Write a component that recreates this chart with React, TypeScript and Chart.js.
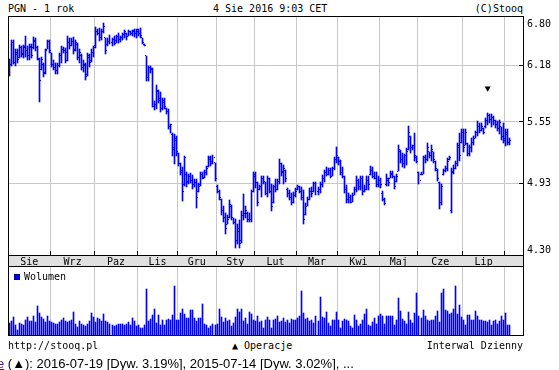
import React, { useEffect, useRef } from "react";
import { Chart, registerables } from "chart.js";

Chart.register(...registerables);

// ---------- data ----------
const monthLabels = ["Sie", "Wrz", "Paz", "Lis", "Gru", "Sty", "Lut", "Mar", "Kwi", "Maj", "Cze", "Lip", "Sie"];
const monthDays = [21, 22, 21, 20, 19, 19, 21, 20, 21, 19, 22, 21, 3];
const slotCount = 255;
const priceTicks = [4.3, 4.93, 5.55, 6.18, 6.8];
const priceMin = 4.3;
const priceMax = 6.8;

const open = [
  6.12, 6.20, 6.46, 6.22, 6.32, 6.28, 6.40, 6.33, 6.40, 6.36,
  6.30, 6.40, 6.40, 6.48, 6.40, 6.26, 6.14, 6.20, 6.10, 6.38,
  6.48, 6.34, 6.20, 6.16, 6.12, 6.18, 6.30, 6.38, 6.36, 6.34,
  6.46, 6.42, 6.48, 6.38, 6.44, 6.28, 6.30, 6.16, 6.18, 6.08,
  6.28, 6.24, 6.34, 6.42, 6.60, 6.58, 6.52, 6.60, 6.52, 6.44,
  6.48, 6.46, 6.50, 6.49, 6.54, 6.50, 6.52, 6.56, 6.57, 6.54,
  6.60, 6.58, 6.60, 6.58, 6.60, 6.58, 6.52, 6.44, 6.30, 6.04,
  6.16, 6.15, 5.72, 5.74, 5.88, 5.80, 5.70, 5.76, 5.70, 5.66,
  5.50, 5.42, 5.28, 5.36, 5.22, 5.12, 5.06, 4.92, 5.02, 4.95,
  5.00, 4.96, 4.92, 4.94, 4.86, 4.92, 5.02, 4.99, 5.04, 5.10,
  5.16, 5.14, 5.13, 4.90, 4.86, 4.78, 4.68, 4.62, 4.56, 4.62,
  4.72, 4.62, 4.58, 4.42, 4.50, 4.42, 4.64, 4.66, 4.66, 4.60,
  4.60, 4.86, 5.00, 4.94, 4.88, 4.90, 4.98, 4.95, 4.84, 4.98,
  4.86, 4.76, 4.90, 4.88, 4.95, 5.12, 5.04, 5.06, 4.88, 4.84,
  4.80, 4.76, 4.82, 4.88, 4.90, 4.86, 4.80, 4.65, 4.72, 4.78,
  4.86, 4.86, 4.93, 4.86, 4.88, 4.92, 4.98, 5.04, 5.02, 5.06,
  5.00, 5.08, 5.16, 5.18, 5.14, 5.04, 5.00, 4.88, 4.78, 4.80,
  4.76, 4.82, 4.88, 4.96, 4.90, 4.98, 4.86, 4.88, 4.96, 5.02,
  5.06, 5.00, 4.98, 4.92, 4.96, 4.84, 4.78, 4.92, 4.96, 4.98,
  5.02, 5.00, 4.95, 5.05, 5.24, 5.16, 5.12, 5.20, 5.26, 5.40,
  5.28, 5.30, 5.18, 5.04, 5.02, 5.02, 5.18, 5.16, 5.24, 5.20,
  5.24, 5.14, 5.06, 4.94, 4.76, 5.02, 5.06, 5.08, 5.16, 4.68,
  5.04, 5.08, 5.12, 5.28, 5.34, 5.44, 5.30, 5.32, 5.22, 5.28,
  5.34, 5.38, 5.44, 5.50, 5.46, 5.48, 5.50, 5.56, 5.62, 5.58,
  5.60, 5.56, 5.52, 5.48, 5.50, 5.40, 5.38, 5.42, 5.34,
];

const high = [
  6.26, 6.50, 6.50, 6.38, 6.38, 6.43, 6.42, 6.43, 6.54, 6.42,
  6.44, 6.44, 6.53, 6.52, 6.42, 6.27, 6.29, 6.21, 6.38, 6.50,
  6.50, 6.34, 6.25, 6.21, 6.21, 6.34, 6.42, 6.41, 6.40, 6.54,
  6.52, 6.52, 6.53, 6.50, 6.46, 6.38, 6.32, 6.25, 6.21, 6.34,
  6.32, 6.38, 6.42, 6.66, 6.63, 6.65, 6.63, 6.71, 6.52, 6.52,
  6.56, 6.52, 6.54, 6.56, 6.58, 6.54, 6.58, 6.62, 6.58, 6.62,
  6.61, 6.62, 6.63, 6.63, 6.63, 6.64, 6.52, 6.44, 6.30, 6.18,
  6.18, 6.16, 5.78, 5.96, 5.90, 5.88, 5.81, 5.81, 5.70, 5.69,
  5.53, 5.43, 5.42, 5.40, 5.23, 5.13, 5.09, 5.20, 5.04, 5.02,
  5.03, 5.01, 4.97, 4.97, 4.94, 5.04, 5.04, 5.06, 5.10, 5.20,
  5.20, 5.21, 5.13, 4.92, 4.87, 4.79, 4.72, 4.66, 4.64, 4.78,
  4.73, 4.62, 4.61, 4.56, 4.60, 4.68, 4.83, 4.72, 4.67, 4.66,
  4.87, 5.04, 5.04, 4.95, 4.92, 5.00, 5.00, 4.95, 5.00, 4.98,
  4.93, 4.92, 4.97, 4.97, 5.17, 5.13, 5.11, 5.06, 4.89, 4.87,
  4.84, 4.85, 4.89, 4.92, 4.91, 4.90, 4.87, 4.75, 4.81, 4.89,
  4.90, 4.95, 4.95, 4.90, 4.95, 5.01, 5.06, 5.09, 5.08, 5.08,
  5.09, 5.19, 5.29, 5.19, 5.16, 5.09, 5.00, 4.92, 4.84, 4.82,
  4.84, 4.90, 5.00, 4.97, 5.00, 5.00, 4.92, 5.00, 5.00, 5.10,
  5.09, 5.04, 5.04, 5.00, 4.98, 4.86, 4.80, 5.02, 4.98, 5.05,
  5.05, 5.00, 5.02, 5.31, 5.26, 5.23, 5.22, 5.28, 5.51, 5.40,
  5.31, 5.43, 5.20, 5.04, 5.04, 5.20, 5.21, 5.33, 5.24, 5.31,
  5.24, 5.15, 5.07, 4.95, 4.93, 5.07, 5.10, 5.18, 5.20, 5.08,
  5.11, 5.15, 5.33, 5.43, 5.47, 5.47, 5.47, 5.33, 5.31, 5.38,
  5.40, 5.45, 5.56, 5.54, 5.54, 5.49, 5.59, 5.65, 5.63, 5.63,
  5.61, 5.57, 5.56, 5.57, 5.50, 5.54, 5.47, 5.48, 5.38,
];

const low = [
  6.06, 6.18, 6.20, 6.18, 6.21, 6.27, 6.29, 6.27, 6.29, 6.25,
  6.25, 6.27, 6.38, 6.36, 6.25, 5.77, 6.13, 6.05, 6.08, 6.38,
  6.34, 6.17, 6.13, 6.09, 6.09, 6.17, 6.21, 6.34, 6.21, 6.24,
  6.38, 6.42, 6.32, 6.36, 6.25, 6.21, 6.13, 6.11, 6.01, 6.06,
  6.17, 6.22, 6.29, 6.40, 6.56, 6.48, 6.50, 6.58, 6.32, 6.42,
  6.44, 6.42, 6.43, 6.46, 6.46, 6.47, 6.50, 6.52, 6.50, 6.54,
  6.56, 6.54, 6.53, 6.52, 6.55, 6.52, 6.44, 6.42, 6.00, 6.00,
  6.10, 5.71, 5.68, 5.69, 5.75, 5.66, 5.68, 5.69, 5.64, 5.47,
  5.43, 5.20, 5.12, 5.20, 5.10, 5.01, 4.77, 4.91, 4.90, 4.93,
  4.94, 4.88, 4.90, 4.71, 4.85, 4.91, 4.97, 4.98, 5.01, 5.09,
  5.10, 5.12, 4.96, 4.84, 4.78, 4.64, 4.58, 4.48, 4.56, 4.62,
  4.60, 4.56, 4.36, 4.39, 4.36, 4.40, 4.60, 4.62, 4.58, 4.58,
  4.58, 4.85, 4.89, 4.72, 4.87, 4.81, 4.93, 4.82, 4.81, 4.84,
  4.68, 4.75, 4.85, 4.87, 4.93, 5.00, 4.93, 4.95, 4.81, 4.78,
  4.73, 4.75, 4.81, 4.87, 4.84, 4.78, 4.56, 4.64, 4.72, 4.78,
  4.81, 4.85, 4.82, 4.82, 4.84, 4.90, 4.95, 5.00, 5.01, 4.98,
  5.00, 5.06, 5.13, 5.11, 5.01, 4.98, 4.84, 4.75, 4.75, 4.75,
  4.76, 4.82, 4.85, 4.87, 4.87, 4.82, 4.85, 4.87, 4.87, 5.01,
  4.98, 4.97, 4.90, 4.90, 4.89, 4.77, 4.73, 4.91, 4.91, 4.98,
  4.98, 4.88, 4.95, 5.05, 5.13, 5.09, 5.08, 5.11, 5.26, 5.23,
  5.26, 5.15, 5.13, 4.93, 5.01, 5.02, 5.13, 5.15, 5.18, 5.15,
  5.13, 5.05, 4.96, 4.70, 4.73, 5.01, 5.04, 5.05, 5.16, 4.66,
  5.02, 5.07, 5.10, 5.15, 5.33, 5.24, 5.31, 5.20, 5.20, 5.24,
  5.31, 5.38, 5.40, 5.43, 5.45, 5.42, 5.49, 5.52, 5.54, 5.50,
  5.52, 5.49, 5.45, 5.42, 5.36, 5.33, 5.30, 5.31, 5.31,
];

const close = [
  6.20, 6.46, 6.22, 6.34, 6.25, 6.40, 6.32, 6.41, 6.36, 6.30,
  6.41, 6.31, 6.49, 6.40, 6.27, 6.01, 6.26, 6.09, 6.36, 6.48,
  6.37, 6.20, 6.16, 6.12, 6.18, 6.30, 6.38, 6.36, 6.24, 6.46,
  6.42, 6.48, 6.36, 6.46, 6.28, 6.34, 6.16, 6.20, 6.06, 6.30,
  6.22, 6.34, 6.40, 6.60, 6.58, 6.52, 6.60, 6.66, 6.36, 6.48,
  6.46, 6.50, 6.45, 6.54, 6.50, 6.52, 6.56, 6.60, 6.54, 6.60,
  6.58, 6.61, 6.58, 6.62, 6.58, 6.55, 6.46, 6.42, 6.04, 6.16,
  6.14, 5.72, 5.74, 5.90, 5.78, 5.70, 5.78, 5.72, 5.66, 5.50,
  5.52, 5.26, 5.38, 5.24, 5.12, 5.04, 4.86, 5.18, 4.94, 5.00,
  4.96, 4.92, 4.94, 4.80, 4.90, 5.02, 4.98, 5.04, 5.08, 5.18,
  5.12, 5.18, 4.98, 4.86, 4.80, 4.68, 4.62, 4.52, 4.60, 4.74,
  4.62, 4.58, 4.42, 4.52, 4.40, 4.64, 4.66, 4.68, 4.60, 4.60,
  4.86, 5.02, 4.94, 4.76, 4.90, 4.98, 4.95, 4.84, 4.98, 4.86,
  4.72, 4.90, 4.88, 4.95, 5.12, 5.05, 5.08, 4.98, 4.84, 4.80,
  4.76, 4.82, 4.86, 4.90, 4.86, 4.80, 4.60, 4.72, 4.78, 4.86,
  4.84, 4.93, 4.86, 4.88, 4.92, 4.98, 5.04, 5.02, 5.06, 5.00,
  5.08, 5.16, 5.20, 5.14, 5.04, 5.00, 4.88, 4.78, 4.80, 4.76,
  4.82, 4.88, 4.96, 4.90, 4.98, 4.86, 4.88, 4.96, 4.92, 5.06,
  5.00, 4.98, 4.92, 4.96, 4.92, 4.78, 4.75, 4.98, 4.94, 5.03,
  5.00, 4.90, 5.00, 5.26, 5.16, 5.12, 5.20, 5.24, 5.44, 5.28,
  5.30, 5.20, 5.14, 4.96, 5.02, 5.18, 5.16, 5.28, 5.20, 5.26,
  5.16, 5.08, 4.98, 4.76, 4.90, 5.06, 5.08, 5.14, 5.18, 5.05,
  5.08, 5.12, 5.30, 5.20, 5.44, 5.28, 5.44, 5.22, 5.28, 5.34,
  5.38, 5.44, 5.50, 5.46, 5.50, 5.44, 5.56, 5.62, 5.58, 5.60,
  5.56, 5.52, 5.48, 5.54, 5.40, 5.36, 5.44, 5.34, 5.36,
];

// volume, in units of 100k shares
const volume = [
  11.7, 14, 18.3, 10, 5, 11.7, 10.7, 10, 15, 18.3,
  14, 14, 19.3, 12.7, 29, 21.7, 18.3, 16, 13.3, 19.3,
  14, 13.3, 12.3, 10.7, 11.3, 12.7, 15, 17.3, 14, 12.7,
  14, 15, 22.7, 11, 8.3, 14, 10.7, 10, 9.3, 10.7,
  14, 21.7, 18.3, 12.7, 17.3, 16, 14, 20.7, 14, 13.3,
  10.7, 10, 9.3, 10, 10.7, 11, 11, 10, 11, 12.7,
  9.7, 17, 13.7, 9.3, 10.3, 7, 7, 10, 46, 13.7,
  16, 20.3, 26, 12, 20.3, 10.3, 15.3, 10.3, 14.7, 16,
  15.3, 20.3, 49.3, 14.7, 14.7, 22, 26, 21.3, 17, 17,
  25.3, 24.7, 17, 13.7, 17, 17, 31.3, 11.3, 10.3, 7,
  8.7, 11.3, 10.3, 11.3, 26, 18, 12.7, 17, 13.7, 14.7,
  8.7, 12, 18, 26, 22.7, 26, 13.7, 17, 11.3, 22.7,
  21.3, 14.7, 13.7, 18.7, 12.7, 13.7, 7, 15.3, 18, 15.3,
  7, 15.3, 16, 18.7, 12.7, 13.7, 17, 12.7, 14.7, 12,
  16, 15.3, 15.3, 17, 19.3, 43.7, 22, 16, 17, 13.7,
  14.7, 12, 19.3, 13.7, 38, 18, 17, 22.7, 12, 8.7,
  14.7, 14.7, 22.7, 14.7, 7, 13.7, 16, 15.3, 13.7, 9.3,
  7, 20.3, 14.7, 9.3, 11.3, 15.3, 21.3, 26, 10.3, 9.3,
  12.7, 17, 11.3, 19.3, 21.3, 19.3, 11.3, 19.3, 18.7, 18.7,
  18.7, 10.3, 15.3, 37, 23.7, 16, 13.7, 11.3, 22.7, 14.7,
  12, 22, 42, 19.3, 17, 25.3, 19.3, 14.7, 13.7, 14.7,
  14.7, 19.3, 23.7, 12.7, 42, 46, 25.3, 23.7, 21.3, 22,
  26, 49.3, 21.3, 30.3, 18, 15.3, 10.3, 20.3, 20.3, 15.3,
  14.7, 23.7, 19.3, 15.3, 14.7, 13.7, 13.7, 12.7, 14.7, 10.3,
  13.7, 15.3, 11.3, 13.7, 19.3, 14.7, 22, 10.3, 10,
];
const volumeMax = 68;

const dividendIndex = 237;
const dividendMarkLevel = 5.92;

// ---------- styling ----------
const BLUE = "#0000ff";
const GRID = "#c8c8c8";
const BAND_BG = "#e0e0e0";
const MONO = '"DejaVu Sans Mono", monospace';
const BAND = 11;

// month geometry (slots)
const monthStarts: number[] = [];
{
  let s = 0;
  for (const d of monthDays) {
    monthStarts.push(s);
    s += d;
  }
}
const monthBoundaries = monthStarts.slice(1).map((s) => s - 0.5);
const labelTicks: { value: number; label: string }[] = [];
monthStarts.forEach((s, k) => {
  if (monthDays[k] >= 10) labelTicks.push({ value: s + (monthDays[k] - 1) / 2, label: monthLabels[k] });
});
const boundarySet = new Set(monthBoundaries);
const labelMap = new Map(labelTicks.map((t) => [t.value, t.label]));
const allXTicks = [...monthBoundaries, ...labelTicks.map((t) => t.value)].sort((a, b) => a - b);

const crispPlugin = {
  id: "crisp",
  afterDatasetsUpdate(chart: any) {
    chart.data.datasets.forEach((ds: any, di: number) => {
      if (!ds.crisp) return;
      const meta = chart.getDatasetMeta(di);
      meta.data.forEach((el: any) => {
        if (meta.type === "bar") {
          el.x = Math.floor(el.x) + 0.5;
          el.y = Math.round(el.y);
          el.base = Math.round(el.base);
        } else {
          el.x = Math.floor(el.x) + 0.5;
          el.y = Math.floor(el.y) + 0.5;
        }
      });
    });
  },
};

const align = (p: number) => Math.round(p - 0.5) + 0.5;

const priceDecor = {
  id: "priceDecor",
  beforeDraw(chart: any) {
    const { ctx, chartArea: a } = chart;
    ctx.save();
    ctx.fillStyle = BAND_BG;
    ctx.fillRect(a.left, a.bottom, a.right - a.left, BAND);
    ctx.restore();
  },
  afterDraw(chart: any) {
    const { ctx, chartArea: a, scales } = chart;
    const xs = scales.x;
    const ys = scales.y;
    ctx.save();
    ctx.strokeStyle = "#000";
    ctx.lineWidth = 1;
    ctx.beginPath();
    ctx.moveTo(a.left + 0.5, a.top);
    ctx.lineTo(a.left + 0.5, a.bottom + BAND + 1);
    ctx.moveTo(a.right + 0.5, a.top);
    ctx.lineTo(a.right + 0.5, a.bottom + BAND + 1);
    ctx.moveTo(a.left, a.top + 0.5);
    ctx.lineTo(a.right + 1, a.top + 0.5);
    ctx.moveTo(a.left, a.bottom + 0.5);
    ctx.lineTo(a.right + 1, a.bottom + 0.5);
    ctx.moveTo(a.left, a.bottom + BAND + 0.5);
    ctx.lineTo(a.right + 1, a.bottom + BAND + 0.5);
    monthBoundaries.forEach((b) => {
      const x = align(xs.getPixelForValue(b));
      ctx.moveTo(x, a.bottom - 4);
      ctx.lineTo(x, a.bottom);
    });
    priceTicks.forEach((v) => {
      if (v === priceMin || v === priceMax) return;
      const y = align(ys.getPixelForValue(v));
      ctx.moveTo(a.right - 4, y);
      ctx.lineTo(a.right, y);
    });
    ctx.stroke();
    ctx.fillStyle = "#000";
    ctx.font = "10px " + MONO;
    ctx.textAlign = "left";
    ctx.textBaseline = "middle";
    priceTicks.forEach((v) => {
      let y = ys.getPixelForValue(v);
      y = Math.min(Math.max(y, a.top + 8), a.bottom - 5);
      ctx.fillText(v.toFixed(2), a.right + 4, y);
    });
    ctx.restore();
  },
};

const volumeDecor = {
  id: "volumeDecor",
  afterDraw(chart: any) {
    const { ctx, chartArea: a } = chart;
    ctx.save();
    ctx.strokeStyle = "#000";
    ctx.lineWidth = 1;
    ctx.beginPath();
    ctx.moveTo(a.left + 0.5, a.top);
    ctx.lineTo(a.left + 0.5, a.bottom + 1);
    ctx.moveTo(a.right + 0.5, a.top);
    ctx.lineTo(a.right + 0.5, a.bottom + 1);
    ctx.moveTo(a.left, a.bottom + 0.5);
    ctx.lineTo(a.right + 1, a.bottom + 0.5);
    ctx.stroke();
    ctx.restore();
  },
};

const xGridColor = (c: any) => (c.tick && boundarySet.has(c.tick.value) ? GRID : "rgba(0,0,0,0)");

export default function App() {
  const priceRef = useRef<HTMLCanvasElement>(null);
  const volRef = useRef<HTMLCanvasElement>(null);

  useEffect(() => {
    const priceBars = high.map((h, i) => ({ x: i, y: [low[i], h] }));
    const openTicks = open.map((v, i) => ({ x: i - 0.5, y: v }));
    const closeTicks = close.map((v, i) => ({ x: i + 0.5, y: v }));

    const tickStyle = {
      type: "scatter",
      pointStyle: "line",
      pointRadius: 0.5,
      pointBorderColor: BLUE,
      pointBackgroundColor: BLUE,
      pointBorderWidth: 1,
      crisp: true,
    };

    const priceChart = new Chart(priceRef.current!, {
      type: "bar",
      data: {
        datasets: [
          {
            type: "scatter",
            data: [{ x: dividendIndex, y: dividendMarkLevel }],
            pointStyle: "triangle",
            pointRotation: 180,
            pointRadius: 3.5,
            pointBackgroundColor: "#000",
            pointBorderColor: "#000",
            pointBorderWidth: 0,
          } as any,
          {
            type: "bar",
            data: priceBars as any,
            backgroundColor: BLUE,
            borderWidth: 0,
            barThickness: 1,
            crisp: true,
          } as any,
          { ...tickStyle, data: openTicks } as any,
          { ...tickStyle, data: closeTicks } as any,
        ],
      },
      options: {
        responsive: false,
        animation: false,
        events: [],
        layout: { padding: { left: 8, top: 16, right: 0, bottom: 0 } },
        plugins: { legend: { display: false }, tooltip: { enabled: false } },
        scales: {
          x: {
            type: "linear",
            position: "bottom",
            offset: false,
            min: -0.5,
            max: slotCount - 0.5,
            afterBuildTicks: (s: any) => {
              s.ticks = allXTicks.map((v) => ({ value: v }));
            },
            afterFit: (s: any) => {
              s.height = BAND + 1;
            },
            grid: { color: xGridColor, drawTicks: false, lineWidth: 1, offset: false },
            border: { display: false },
            ticks: {
              autoSkip: false,
              maxRotation: 0,
              minRotation: 0,
              padding: 1,
              color: "#000",
              font: { family: MONO, size: 10 },
              callback: (v: any) => labelMap.get(Number(v)) ?? "",
            },
          },
          y: {
            type: "logarithmic",
            position: "right",
            min: priceMin,
            max: priceMax,
            afterBuildTicks: (s: any) => {
              s.ticks = priceTicks.map((v) => ({ value: v }));
            },
            afterFit: (s: any) => {
              s.width = 36;
            },
            grid: {
              color: (c: any) =>
                c.tick && c.tick.value !== priceMin && c.tick.value !== priceMax ? GRID : "rgba(0,0,0,0)",
              drawTicks: false,
            },
            border: { display: false },
            ticks: { display: false },
          },
        },
      } as any,
      plugins: [crispPlugin, priceDecor],
    });

    const volChart = new Chart(volRef.current!, {
      type: "bar",
      data: {
        datasets: [
          {
            data: volume.map((v, i) => ({ x: i, y: v })),
            backgroundColor: BLUE,
            borderWidth: 0,
            barThickness: 1,
            crisp: true,
          } as any,
        ],
      },
      options: {
        responsive: false,
        animation: false,
        events: [],
        layout: { padding: { left: 8, top: 0, right: 36, bottom: 1 } },
        plugins: { legend: { display: false }, tooltip: { enabled: false } },
        scales: {
          x: {
            type: "linear",
            offset: false,
            min: -0.5,
            max: slotCount - 0.5,
            afterBuildTicks: (s: any) => {
              s.ticks = monthBoundaries.map((v) => ({ value: v }));
            },
            afterFit: (s: any) => {
              s.height = 0;
            },
            grid: { color: GRID, drawTicks: false, offset: false },
            border: { display: false },
            ticks: { display: false },
          },
          y: { display: false, min: 0, max: volumeMax },
        },
      } as any,
      plugins: [crispPlugin, volumeDecor],
    });

    return () => {
      priceChart.destroy();
      volChart.destroy();
    };
  }, []);

  const mono: React.CSSProperties = {
    position: "absolute",
    fontFamily: MONO,
    fontSize: 10,
    lineHeight: "12px",
    whiteSpace: "pre",
    color: "#000",
  };

  return (
    <div
      style={{
        position: "absolute",
        left: 0,
        top: 0,
        width: 559,
        height: 370,
        background: "#fff",
        overflow: "hidden",
      }}
    >
      <div style={{ ...mono, left: 8, top: 3 }}>PGN - 1 rok</div>
      <div style={{ ...mono, left: 213, top: 3 }}>4 Sie 2016 9:03 CET</div>
      <div style={{ ...mono, right: 36, top: 3 }}>(C)Stooq</div>

      <canvas ref={priceRef} width={559} height={267} style={{ position: "absolute", left: 0, top: 0 }} />
      <canvas ref={volRef} width={559} height={69} style={{ position: "absolute", left: 0, top: 267 }} />

      <div
        style={{
          position: "absolute",
          left: 14,
          top: 274,
          width: 4,
          height: 4,
          background: BLUE,
          border: "1px solid #000080",
        }}
      />
      <div style={{ ...mono, left: 24, top: 271 }}>Wolumen</div>

      <div style={{ ...mono, left: 8, top: 340 }}>http://stooq.pl</div>
      <div style={{ ...mono, left: 232, top: 340 }}>▲ Operacje</div>
      <div style={{ ...mono, right: 36, top: 340 }}>Interwal Dzienny</div>

      <div
        style={{
          position: "absolute",
          left: -3,
          top: 356,
          fontFamily: '"Liberation Sans", Arial, sans-serif',
          fontSize: 13,
          lineHeight: "15px",
          whiteSpace: "pre",
          color: "#000",
        }}
      >
        <span style={{ color: "#551a8b", textDecoration: "underline" }}>e</span>
        {" (▲): 2016-07-19 [Dyw. 3.19%], 2015-07-14 [Dyw. 3.02%], ..."}
      </div>
    </div>
  );
}
